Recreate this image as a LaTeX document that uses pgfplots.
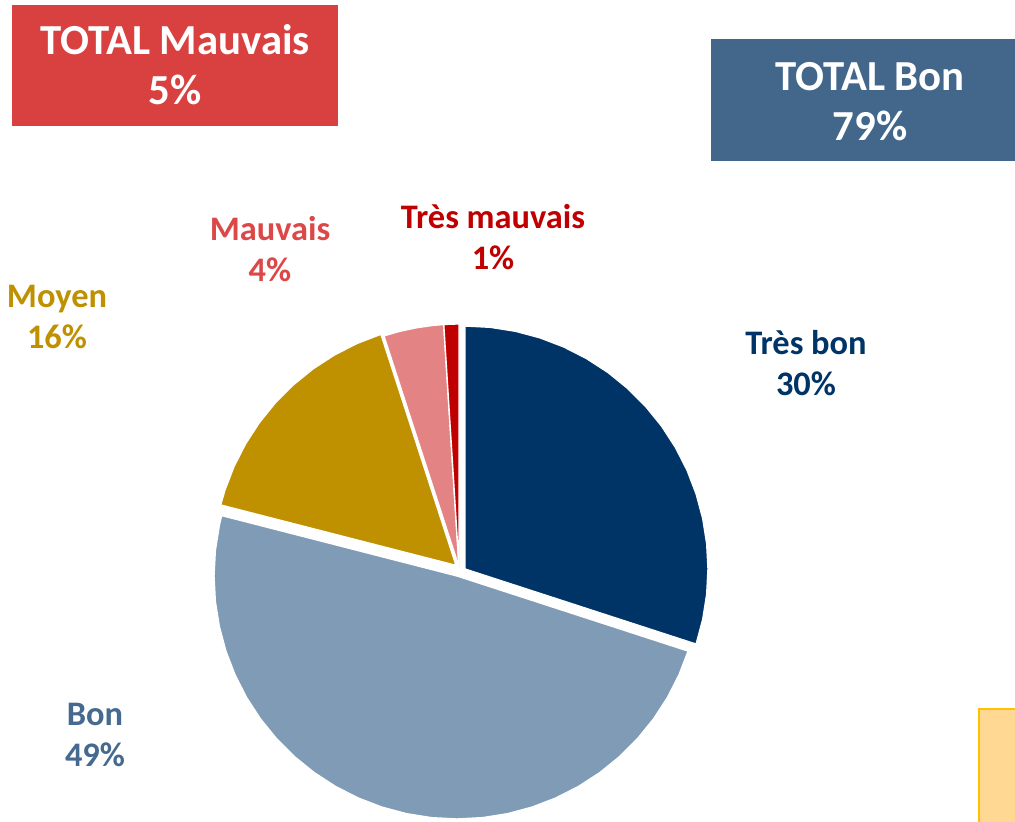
\documentclass[border=0pt]{standalone}
\usepackage{fontspec}
\setmainfont{Carlito}
\usepackage{pgfplots}
\pgfplotsset{compat=1.18}
\usepgfplotslibrary{polar}
\definecolor{tresbon}{HTML}{003366}
\definecolor{bon}{HTML}{809BB5}
\definecolor{moyen}{HTML}{BF9000}
\definecolor{mauvais}{HTML}{E48383}
\definecolor{tresmauvais}{HTML}{C00000}
\definecolor{boxred}{HTML}{D94141}
\definecolor{boxblue}{HTML}{43668B}
\definecolor{lblred}{HTML}{DC4848}
\definecolor{lblblue}{HTML}{45698F}
\definecolor{yelfill}{HTML}{FFD993}
\definecolor{yeledge}{HTML}{FFC000}

\begin{document}
\begin{tikzpicture}
\begin{axis}[
  x=0.5pt,y=0.5pt,
  xmin=-459,xmax=556,ymin=-255,ymax=567,
  hide axis,clip=false,
  slice/.style={draw=white,line width=0.7pt,data cs=polar},
]
% boxes
\fill[boxred] (axis cs:-447,562) rectangle (axis cs:-121,441);
\fill[boxblue] (axis cs:252,528) rectangle (axis cs:556,406);
\fill[yelfill] (axis cs:519,-141) rectangle (axis cs:556,-255);
\draw[yeledge,line width=1pt] (axis cs:520,-255) -- (axis cs:520,-142) -- (axis cs:556,-142);
% slices: (angle, radius), clockwise from top
% Tres bon 30%
\addplot[slice,fill=tresbon,xshift=3pt,yshift=-1pt] coordinates {
 (0,0) (90,243) (84,243) (78,243) (72,243) (66,243) (60,243) (54,243) (48,243) (42,243)
 (36,243) (30,243) (24,243) (18,243) (12,243) (6,243) (0,243) (-6,243) (-12,243) (-18,243)} -- cycle;
% Bon 49%
\addplot[slice,fill=bon,xshift=-1pt,yshift=-4.5pt] coordinates {
 (0,0) (-18,243) (-24,243) (-30,243) (-36,243) (-42,243) (-48,243) (-54,243) (-60,243)
 (-66,243) (-72,243) (-78,243) (-84,243) (-90,243) (-96,243) (-102,243) (-108,243)
 (-114,243) (-120,243) (-126,243) (-132,243) (-138,243) (-144,243) (-150,243) (-156,243)
 (-162,243) (-168,243) (-174,243) (-180,243) (-186,243) (-192,243) (-194.4,243)} -- cycle;
% Moyen 16%
\addplot[slice,fill=moyen,xshift=-1.5pt,yshift=0.8pt] coordinates {
 (0,0) (165.6,243) (162,243) (156,243) (150,243) (144,243) (138,243) (132,243)
 (126,243) (120,243) (114,243) (108,243)} -- cycle;
% Mauvais 4%
\addplot[slice,fill=mauvais] coordinates {
 (0,0) (108,243) (104,243) (100,243) (96,243) (93.6,243)} -- cycle;
% Tres mauvais 1%
\addplot[slice,fill=tresmauvais] coordinates {
 (0,0) (93.6,243) (91.8,243) (90,243)} -- cycle;
% labels
\node[align=center,text=white,font=\fontsize{21.4}{25}\selectfont\bfseries] at (axis cs:-284,502) {TOTAL Mauvais\\5\%};
\node[align=center,text=white,font=\fontsize{21.4}{25}\selectfont\bfseries] at (axis cs:411,465) {TOTAL Bon\\79\%};
\node[align=center,text=tresmauvais,font=\fontsize{17.2}{20.5}\selectfont\bfseries] at (axis cs:34,330) {Très mauvais\\1\%};
\node[align=center,text=lblred,font=\fontsize{17.2}{20.5}\selectfont\bfseries] at (axis cs:-189,318) {Mauvais\\4\%};
\node[align=center,text=moyen,font=\fontsize{17.2}{20.5}\selectfont\bfseries] at (axis cs:-402,250) {Moyen\\16\%};
\node[align=center,text=tresbon,font=\fontsize{17.2}{20.5}\selectfont\bfseries] at (axis cs:347,204) {Très bon\\30\%};
\node[align=center,text=lblblue,font=\fontsize{17.2}{20.5}\selectfont\bfseries] at (axis cs:-364,-168) {Bon\\49\%};
\end{axis}
\pgfresetboundingbox
\useasboundingbox (0,0) rectangle (507.5pt,411pt);
\end{tikzpicture}
\end{document}
